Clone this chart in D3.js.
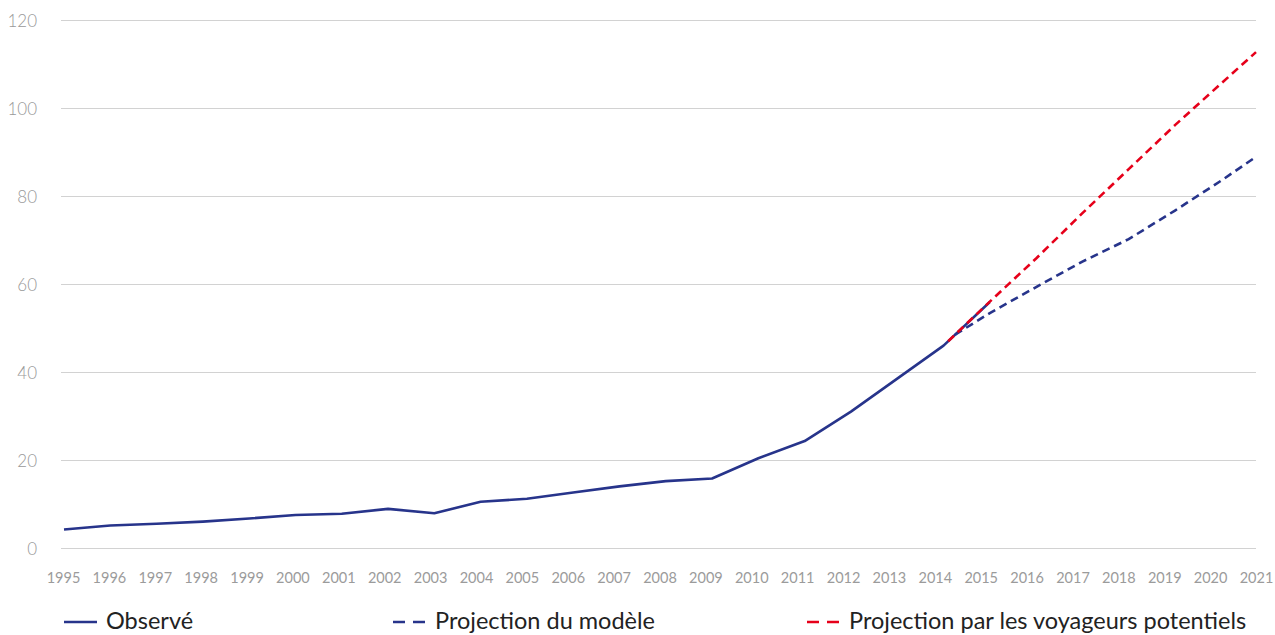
<!DOCTYPE html>
<html>
<head>
<meta charset="utf-8">
<script src="https://cdn.jsdelivr.net/npm/d3@7"></script>
<style>
  html, body { margin: 0; padding: 0; background: #ffffff; }
  svg { display: block; }
  text { font-family: Lato, "Open Sans", sans-serif; }
</style>
</head>
<body>
<svg id="chart" width="1275" height="635"></svg>
<script>
// ---- Data ----
const years = [1995, 1996, 1997, 1998, 1999, 2000, 2001, 2002, 2003, 2004, 2005,
               2006, 2007, 2008, 2009, 2010, 2011, 2012, 2013, 2014, 2015];
const observed = [4.2, 5.1, 5.5, 6.0, 6.7, 7.5, 7.8, 8.9, 7.9, 10.5, 11.2,
                  12.6, 14.0, 15.2, 15.8, 20.4, 24.3, 31.0, 38.5, 46.0, 55.9];

const modelYears = [2014.25, 2015, 2016, 2017, 2018, 2019, 2020, 2020.75];
const modelProjection = [48.5, 53.4, 59.3, 65.1, 70.2, 76.7, 83.5, 88.9];

const travellerYears = [2014.1, 2015, 2016, 2017, 2018, 2019, 2020, 2020.75];
const travellerProjection = [47.0, 56.0, 65.8, 76.1, 86.1, 96.1, 105.6, 112.7];

const xTickLabels = ["1995","1996","1997","1998","1999","2000","2001","2002","2003",
  "2004","2005","2006","2007","2008","2009","2010","2011","2012","2013","2014",
  "2015","2016","2017","2018","2019","2020","2021"];
const yTicks = [0, 20, 40, 60, 80, 100, 120];

const legendLabels = ["Observé", "Projection du modèle", "Projection par les voyageurs potentiels"];

// ---- Styles ----
const BLUE = "#27348b";
const RED = "#e6001a";

const svg = d3.select("#chart");

const y = d3.scaleLinear().domain([0, 120]).range([548, 20]);
const xData = d3.scaleLinear().domain([1995, 2020.75]).range([64, 1256]);
const xLabel = d3.scalePoint().domain(xTickLabels).range([63, 1256]);

// Gridlines + y labels
const yAxis = d3.axisLeft(y).tickValues(yTicks).tickSize(-(1256 - 61)).tickPadding(24);
const gy = svg.append("g").attr("transform", "translate(61,0)").call(yAxis);
gy.select(".domain").remove();
gy.selectAll(".tick line").attr("stroke", "#d2d2d2").attr("stroke-width", 1);
gy.selectAll(".tick text")
  .attr("fill", "#999999")
  .attr("font-size", "17px")
  .attr("font-weight", 300)
  .attr("dy", "0.36em");

// x labels
const xAxis = d3.axisBottom(xLabel).tickSize(0).tickPadding(0);
const gx = svg.append("g").attr("transform", "translate(0,573)").call(xAxis);
gx.select(".domain").remove();
gx.selectAll(".tick text")
  .attr("fill", "#9b9b9b")
  .attr("font-size", "14.5px")
  .attr("dy", "0.71em");

// Lines
const line = d3.line().x(d => xData(d[0])).y(d => y(d[1]));

const obsData = years.map((yr, i) => [yr, observed[i]]);
const modelData = modelYears.map((yr, i) => [yr, modelProjection[i]]);
const travData = travellerYears.map((yr, i) => [yr, travellerProjection[i]]);

svg.append("path").datum(obsData)
  .attr("d", line).attr("fill", "none")
  .attr("stroke", BLUE).attr("stroke-width", 2.6)
  .attr("stroke-linejoin", "round");

svg.append("path").datum(modelData)
  .attr("d", line).attr("fill", "none")
  .attr("stroke", BLUE).attr("stroke-width", 2.6)
  .attr("stroke-dasharray", "8,5");

svg.append("path").datum(travData)
  .attr("d", line).attr("fill", "none")
  .attr("stroke", RED).attr("stroke-width", 2.6)
  .attr("stroke-dasharray", "8,5");

// Legend
const legendX = [64, 393, 807];
const legendColors = [BLUE, BLUE, RED];
const legendDash = [null, "12,8", "12,8"];
const lg = svg.append("g").attr("transform", "translate(0,621)");
legendLabels.forEach((lab, i) => {
  lg.append("line")
    .attr("x1", legendX[i]).attr("x2", legendX[i] + 33)
    .attr("y1", 1).attr("y2", 1)
    .attr("stroke", legendColors[i]).attr("stroke-width", 2.6)
    .attr("stroke-dasharray", legendDash[i]);
  lg.append("text")
    .attr("x", legendX[i] + 42).attr("y", 0)
    .attr("dy", "0.34em")
    .attr("fill", "#222222")
    .attr("font-size", "23.5px")
    .text(lab);
});
</script>
</body>
</html>
